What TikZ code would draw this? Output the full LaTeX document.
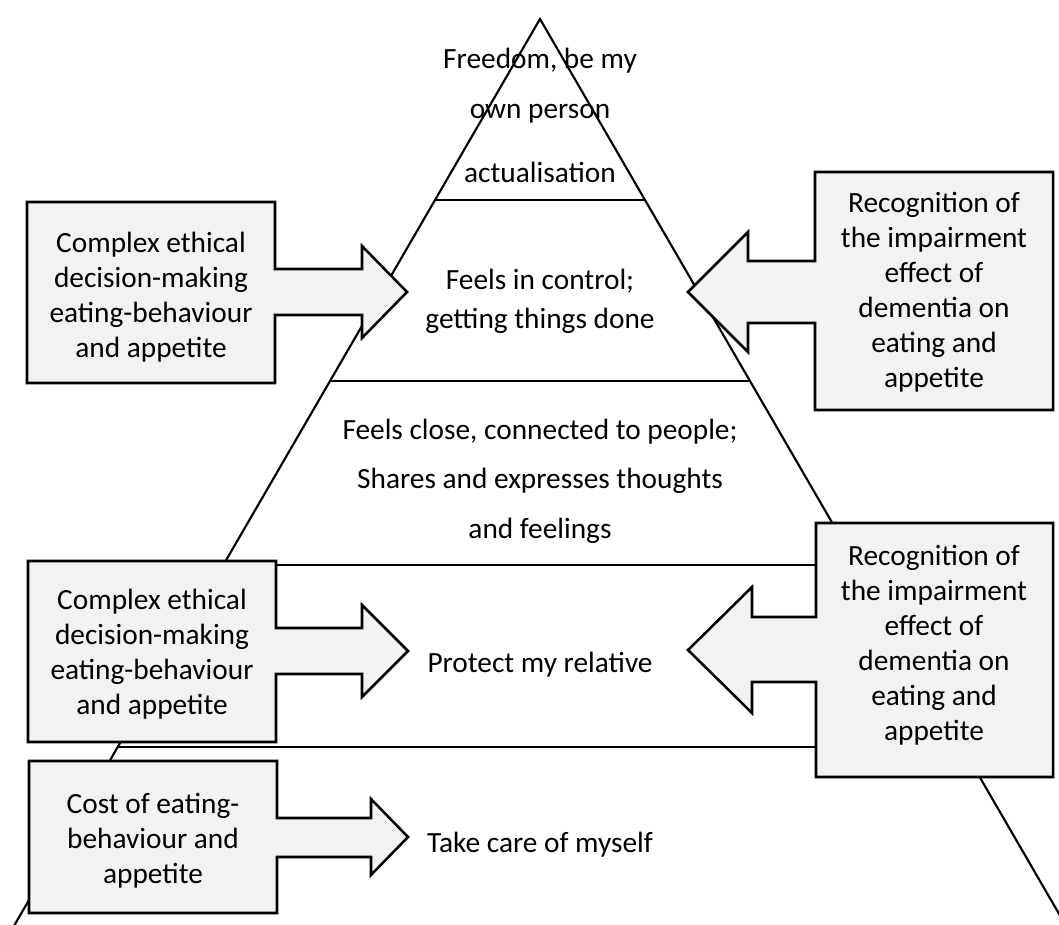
\documentclass[tikz,border=0pt]{standalone}
\usepackage{fontspec}
\setmainfont{Carlito}
\definecolor{calloutgray}{HTML}{F2F2F2}
\begin{document}
\begin{tikzpicture}[x=0.75pt,y=-0.75pt,
  edge/.style={line width=1.6pt},
  tier/.style={line width=1.9pt},
  callout/.style={draw=black, fill=calloutgray, line width=1.9pt, line join=miter},
  boxtext/.style={inner sep=0pt, align=center, anchor=base,
    font=\fontsize{22pt}{26.25pt}\selectfont},
  tiertext/.style={inner sep=0pt, align=center, anchor=base,
    font=\fontsize{22pt}{37.5pt}\selectfont},
]
\useasboundingbox (0,0) rectangle (1059,924);
\clip (0,0) rectangle (1059,924);

% pyramid outline: apex and the two sides running past the lower edge
\coordinate (apex) at (540,19);
\coordinate (footL) at (5.8,940);
\coordinate (footR) at (1074.2,940);
\draw[edge] (footL) -- (apex) -- (footR);

% tier boundaries
\coordinate (t1L) at (435,200);  \coordinate (t1R) at (645,200);
\coordinate (t2L) at (330,381);  \coordinate (t2R) at (750,381);
\coordinate (t3L) at (223,565);  \coordinate (t3R) at (857,565);
\coordinate (t4L) at (118,747);  \coordinate (t4R) at (962,747);
\draw[tier] (t1L) -- (t1R);
\draw[tier] (t2L) -- (t2R);
\draw[tier] (t3L) -- (t3R);
\draw[tier] (t4L) -- (t4R);

% tier labels (anchored on the baseline of their last line)
\node[tiertext, font=\fontsize{22pt}{37.5pt}\selectfont] (freedom) at (540,118) {Freedom, be my\\own person};
\node[tiertext] (actual) at (540,182) {actualisation};
\node[tiertext, font=\fontsize{22pt}{29.25pt}\selectfont] (control) at (540,328) {Feels in control;\\getting things done};
\node[tiertext, font=\fontsize{22pt}{37.1pt}\selectfont] (close) at (540,538) {Feels close, connected to people;\\Shares and expresses thoughts\\and feelings};
\node[tiertext] (protect) at (540,672) {Protect my relative};
\node[tiertext] (care) at (540,852) {Take care of myself};

% callouts pointing right
\draw[callout] (27,202) -- (275,202) -- (275,269) -- (362,269) -- (362,246)
  -- (407,292) -- (362,338) -- (362,315) -- (275,315) -- (275,383) -- (27,383) -- cycle;
\draw[callout] (28,561) -- (276,561) -- (276,628) -- (362,628) -- (362,605)
  -- (408,651) -- (362,697) -- (362,674) -- (276,674) -- (276,742) -- (28,742) -- cycle;
\draw[callout] (29,761) -- (277,761) -- (277,818) -- (371,818) -- (371,799)
  -- (408,837) -- (371,875) -- (371,857) -- (277,857) -- (277,913) -- (29,913) -- cycle;

% callouts pointing left
\draw[callout] (1053,172) -- (815,172) -- (815,261) -- (748,261) -- (748,232)
  -- (688,292) -- (748,352) -- (748,323) -- (815,323) -- (815,410) -- (1053,410) -- cycle;
\draw[callout] (1053,523) -- (816,523) -- (816,617) -- (752,617) -- (752,587)
  -- (688,650) -- (752,713) -- (752,682) -- (816,682) -- (816,777) -- (1053,777) -- cycle;

% callout texts (anchored on the baseline of their last line)
\node[boxtext] (ethicsA) at (151,357) {Complex ethical\\decision-making\\eating-behaviour\\and appetite};
\node[boxtext] (ethicsB) at (152,714) {Complex ethical\\decision-making\\eating-behaviour\\and appetite};
\node[boxtext] (cost) at (153,883) {Cost of eating-\\behaviour and\\appetite};
\node[boxtext] (recogA) at (934,387) {Recognition of\\the impairment\\effect of\\dementia on\\eating and\\appetite};
\node[boxtext] (recogB) at (934,740) {Recognition of\\the impairment\\effect of\\dementia on\\eating and\\appetite};
\end{tikzpicture}
\end{document}
